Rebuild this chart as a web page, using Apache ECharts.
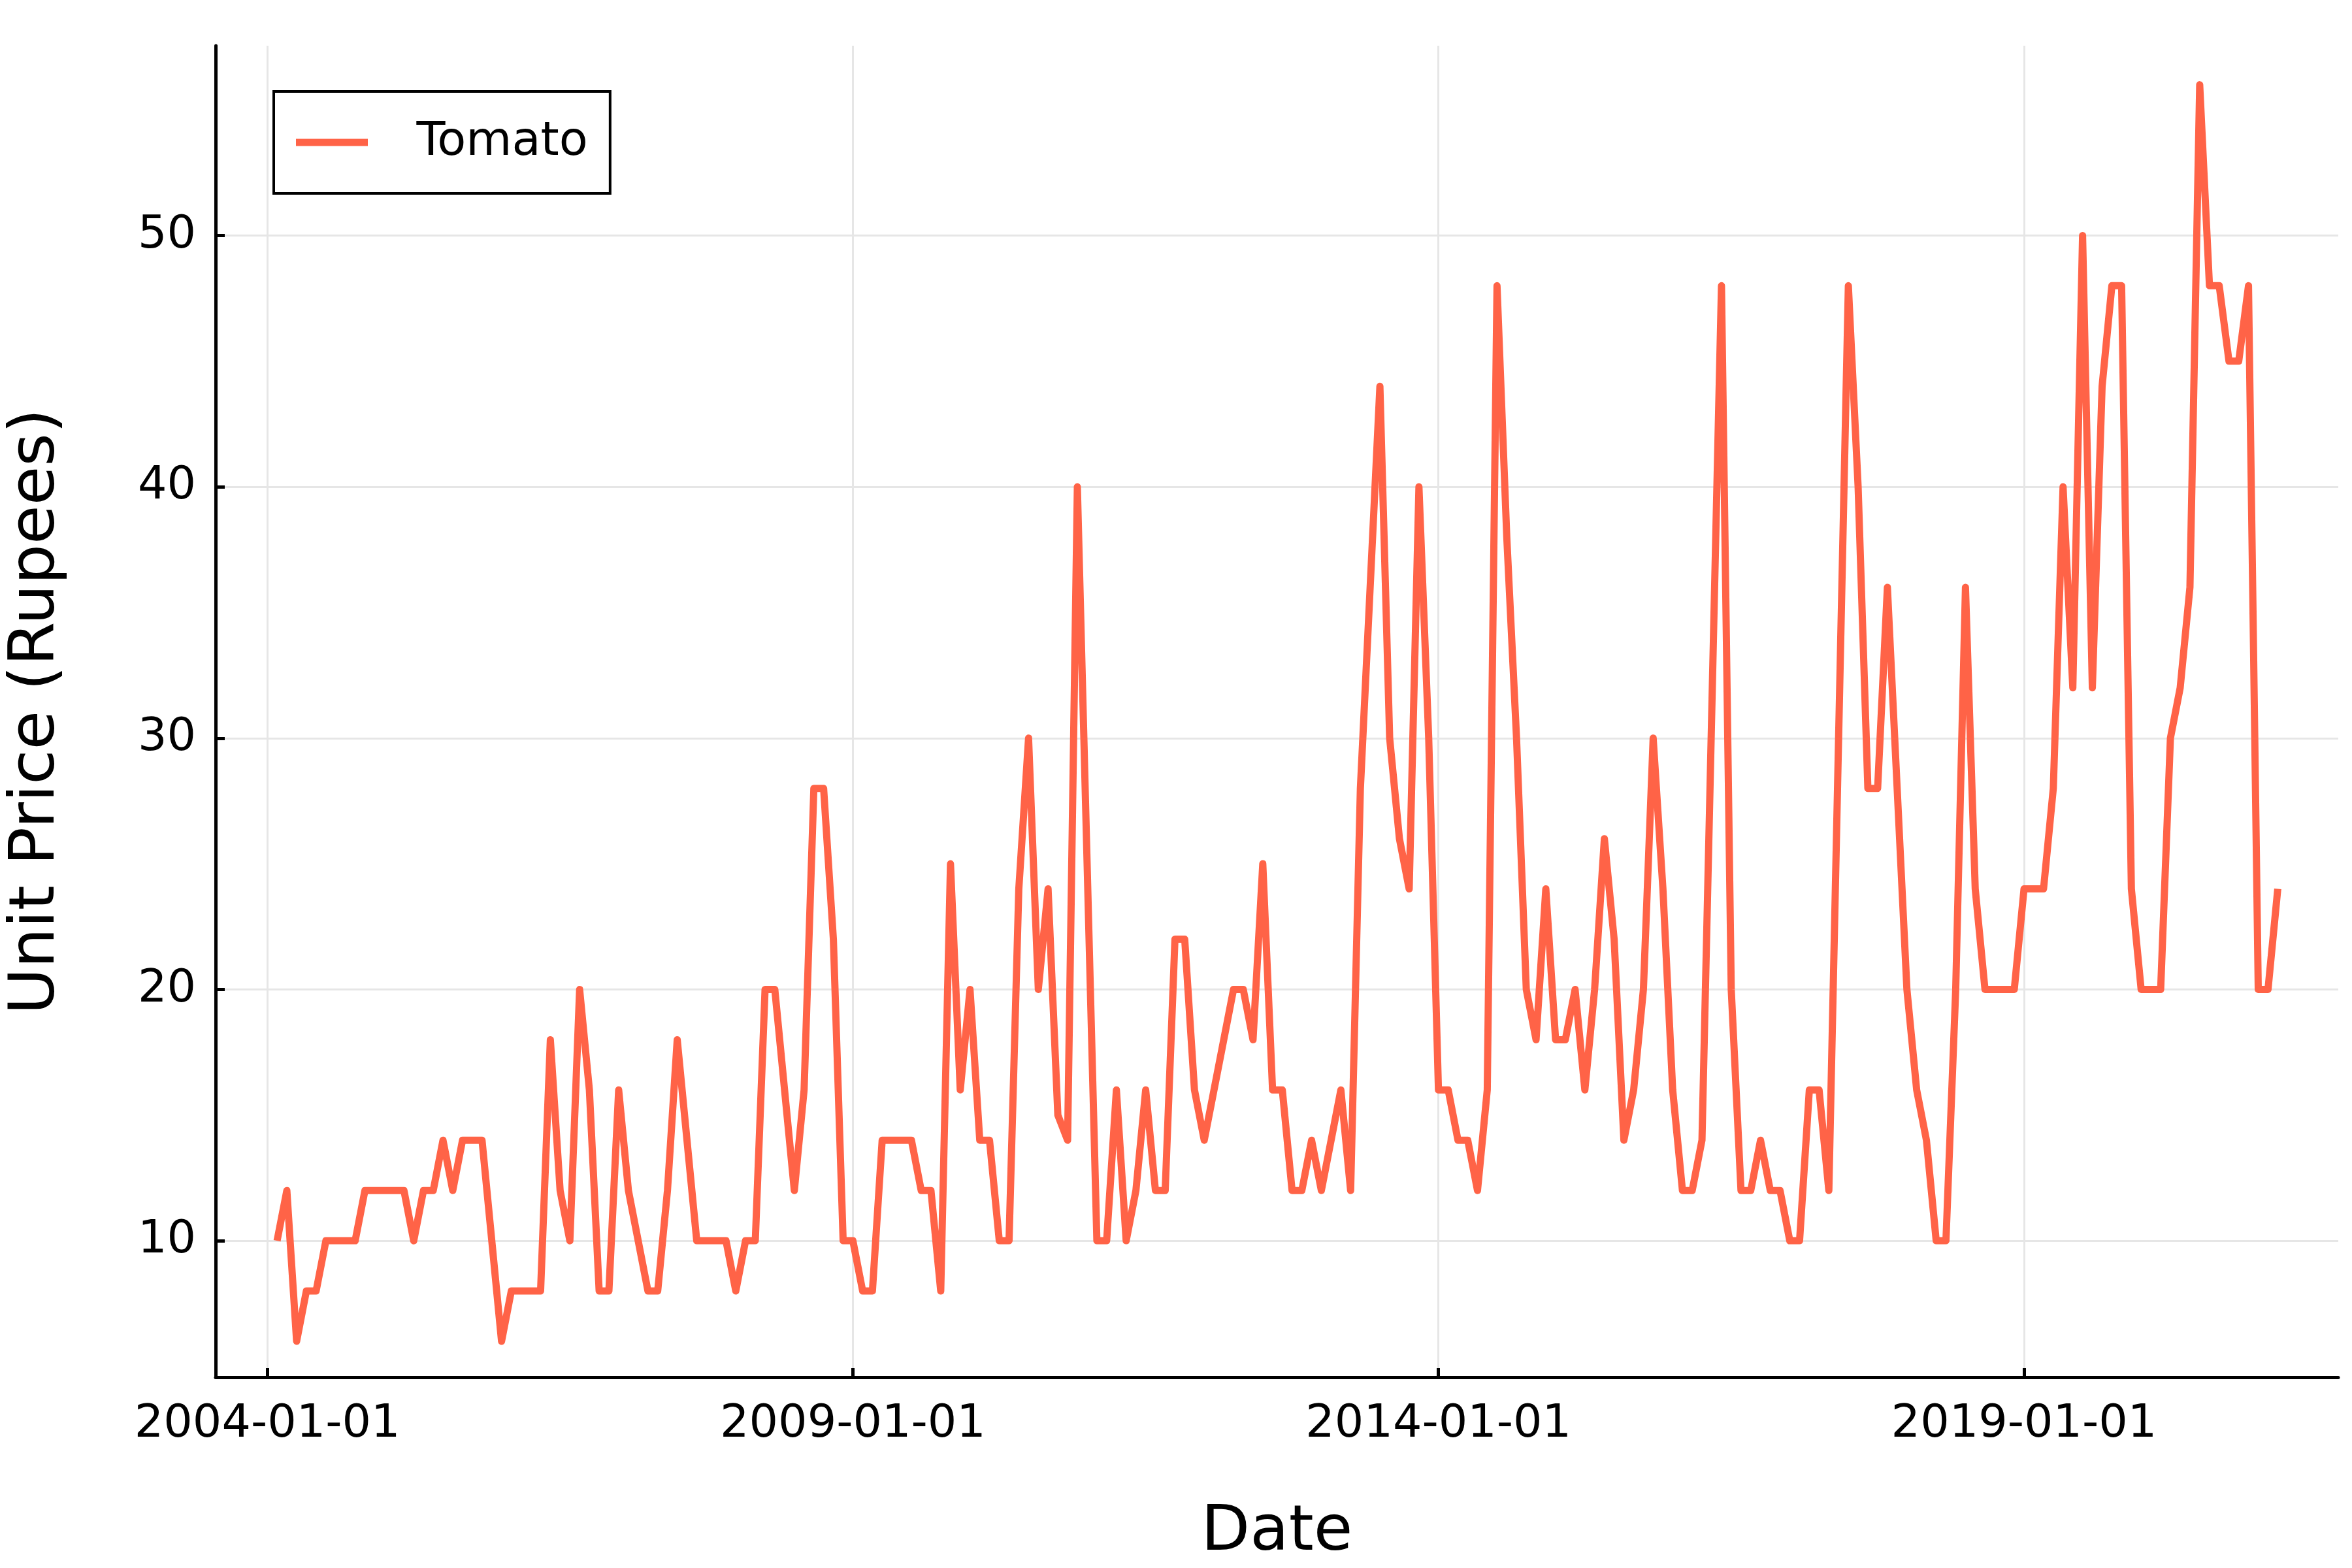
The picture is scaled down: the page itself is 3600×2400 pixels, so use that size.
<!DOCTYPE html>
<html>
<head>
<meta charset="utf-8">
<script src="https://cdn.jsdelivr.net/npm/echarts@6/dist/echarts.min.js"></script>
<style>html,body{margin:0;background:#fff}#main{width:3600px;height:2400px}</style>
</head>
<body>
<div id="main"></div>
<script>
// months counted from 2004-01
const monthIdx = [1,2,3,4,5,6,9,10,14,15,16,17,18,19,20,22,24,25,28,29,30,31,32,33,34,35,36,37,39,40,41,42,44,47,48,49,50,51,52,54,55,56,57,58,59,60,61,62,63,66,67,68,69,70,71,72,73,74,75,76,77,78,79,80,81,82,83,85,86,87,88,89,90,91,92,93,94,95,96,98,99,100,101,102,103,104,105,106,107,108,110,111,112,114,115,116,117,118,119,120,121,122,123,124,125,126,127,128,129,130,131,132,133,134,135,136,137,138,139,140,141,142,143,144,145,146,147,149,150,151,152,153,154,155,156,157,158,159,160,162,163,164,165,166,167,168,169,170,171,172,173,174,175,176,179,180,182,183,184,185,186,187,188,189,190,191,192,194,195,196,197,198,199,200,201,202,203,204,205,206];
const prices = [10,12,6,8,8,10,10,12,12,10,12,12,14,12,14,14,6,8,8,18,12,10,20,16,8,8,16,12,8,8,12,18,10,10,8,10,10,20,20,12,16,28,28,22,10,10,8,8,14,14,12,12,8,25,16,20,14,14,10,10,24,30,20,24,15,14,40,10,10,16,10,12,16,12,12,22,22,16,14,18,20,20,18,25,16,16,12,12,14,12,16,12,28,44,30,26,24,40,30,16,16,14,14,12,16,48,38,30,20,18,24,18,18,20,16,20,26,22,14,16,20,30,24,16,12,12,14,48,20,12,12,14,12,12,10,10,16,16,12,48,40,28,28,36,28,20,16,14,10,10,20,36,24,20,20,24,24,28,40,32,50,32,44,48,48,24,20,20,30,32,36,56,48,48,45,45,48,20,20,24];
const xTicks = [0, 60, 120, 180];
const xTickLabels = ['2004-01-01', '2009-01-01', '2014-01-01', '2019-01-01'];
const yTicks = [10, 20, 30, 40, 50];

const chart = echarts.init(document.getElementById('main'));
const font = 'DejaVu Sans';
chart.setOption({
    backgroundColor: '#fff',
    animation: false,
    grid: { left: 310, right: 21, top: 70, bottom: 238 },
    legend: {
        left: 419, top: 140, orient: 'vertical',
        borderColor: '#000', borderWidth: 4, padding: [42, 34, 42, 34],
        itemWidth: 225, itemHeight: 11,
        textStyle: { fontFamily: font, fontSize: 72, color: '#000', padding: [0, 0, 0, 12] },
        data: [{ name: 'Tomato', icon: 'path://M0,0 L10,0 L10,1 L0,1 Z' }]
    },
    xAxis: {
        type: 'value', min: -5.3, max: 212.2,
        name: 'Date', nameLocation: 'middle', nameGap: 190,
        nameTextStyle: { fontFamily: font, fontSize: 97, color: '#000' },
        axisLine: { onZero: false, lineStyle: { color: '#000', width: 5 } },
        axisTick: { inside: true, length: 14, lineStyle: { width: 5, color: '#000' }, customValues: xTicks },
        axisLabel: { fontFamily: font, fontSize: 70, color: '#000', margin: 38, customValues: xTicks,
            formatter: v => xTickLabels[xTicks.indexOf(Math.round(v))] || '' },
        splitLine: { show: true, lineStyle: { color: '#e6e6e6', width: 3 } }
    },
    yAxis: {
        type: 'value', min: 4.57, max: 57.55,
        name: 'Unit Price (Rupees)', nameLocation: 'middle', nameGap: 225,
        nameTextStyle: { fontFamily: font, fontSize: 97, color: '#000' },
        axisLine: { onZero: false, lineStyle: { color: '#000', width: 5 } },
        axisTick: { inside: true, length: 14, lineStyle: { width: 5, color: '#000' }, customValues: yTicks },
        axisLabel: { fontFamily: font, fontSize: 70, color: '#000', margin: 30, customValues: yTicks },
        splitLine: { show: true, lineStyle: { color: '#e6e6e6', width: 3 } }
    },
    series: [{
        name: 'Tomato', type: 'line', showSymbol: false,
        data: monthIdx.map((m, i) => [m, prices[i]]),
        lineStyle: { color: '#ff6347', width: 11, join: 'round' },
        itemStyle: { color: '#ff6347' }
    }]
});
</script>
</body>
</html>
